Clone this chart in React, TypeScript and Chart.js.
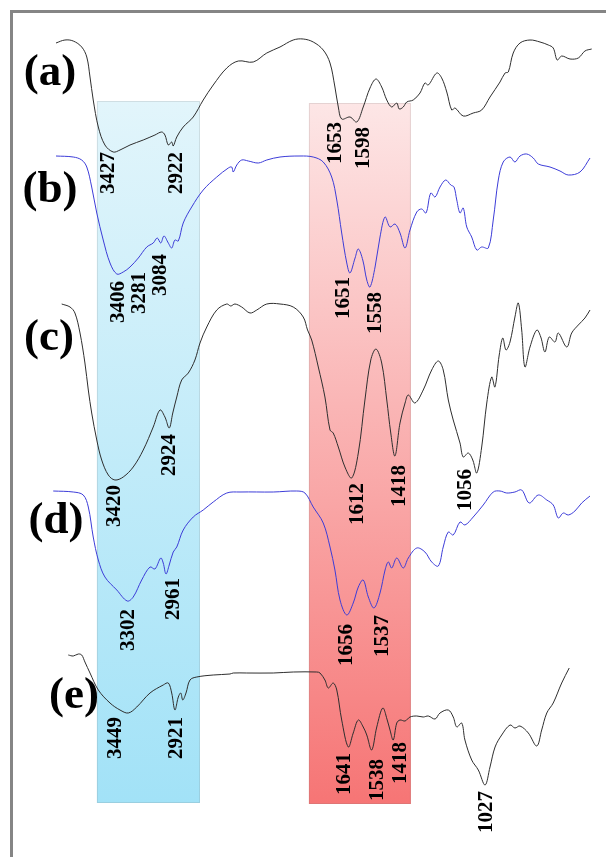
import React, { useEffect, useRef } from "react";
import { Chart, registerables } from "chart.js";

Chart.register(...registerables);

// Wavenumber (cm-1) and offset transmittance (a.u.) for each spectrum
const WN_A = [3786, 3728, 3674, 3619, 3586, 3565, 3544, 3511, 3468, 3414, 3370, 3305, 3219, 3143, 3099, 3078, 3056, 3034, 3024, 3001, 2959, 2894, 2829, 2764, 2676, 2601, 2504, 2416, 2330, 2244, 2179, 2114, 2049, 2005, 1973, 1951, 1929, 1875, 1831, 1789, 1745, 1706, 1669, 1636, 1604, 1571, 1555, 1529, 1506, 1464, 1420, 1388, 1366, 1311, 1279, 1246, 1214, 1192, 1139, 1074, 1019, 965, 900, 867, 846, 814, 770, 705, 640, 586, 554, 528, 499, 445, 391, 348, 304];
const T_A = [81.4, 81.7, 81.6, 81.0, 80.0, 78.0, 75.7, 73.0, 71.2, 70.5, 70.7, 71.2, 71.7, 72.2, 72.5, 72.2, 71.2, 71.5, 71.1, 72.0, 73.0, 74.0, 75.7, 77.2, 78.9, 79.6, 79.5, 80.4, 81.0, 81.7, 81.8, 81.5, 80.7, 79.4, 77.0, 75.0, 73.8, 74.0, 73.5, 75.0, 76.9, 77.8, 77.0, 75.7, 75.0, 75.4, 74.8, 75.0, 75.5, 75.7, 76.4, 77.4, 77.2, 78.4, 77.9, 76.5, 74.7, 74.9, 74.1, 74.4, 74.7, 76.0, 77.5, 78.4, 78.5, 80.4, 81.4, 81.7, 81.5, 81.2, 80.9, 79.7, 80.1, 79.8, 79.9, 80.6, 80.8];

const WN_B = [3786, 3674, 3619, 3586, 3554, 3521, 3479, 3435, 3391, 3349, 3305, 3251, 3196, 3154, 3128, 3105, 3084, 3056, 3034, 3013, 2991, 2959, 2904, 2829, 2741, 2666, 2644, 2634, 2611, 2579, 2536, 2471, 2416, 2330, 2200, 2114, 2049, 1994, 1961, 1929, 1896, 1875, 1842, 1821, 1792, 1766, 1745, 1712, 1680, 1647, 1615, 1582, 1550, 1517, 1485, 1441, 1409, 1381, 1350, 1322, 1290, 1253, 1220, 1199, 1181, 1160, 1139, 1116, 1084, 1051, 1019, 976, 944, 911, 879, 835, 803, 770, 726, 684, 651, 575, 510, 456, 380, 315];
const T_B = [70.1, 70.0, 69.7, 69.0, 67.0, 64.4, 61.7, 59.4, 58.3, 58.5, 59.0, 59.9, 61.0, 61.4, 61.9, 61.4, 62.1, 61.4, 60.9, 61.7, 61.6, 63.4, 65.0, 66.7, 68.0, 68.9, 69.0, 68.5, 69.2, 69.7, 69.6, 69.4, 69.7, 70.0, 70.1, 70.0, 69.5, 68.0, 65.7, 62.4, 59.4, 58.4, 59.9, 60.8, 59.7, 57.7, 57.0, 59.0, 62.0, 64.0, 63.0, 63.3, 62.4, 60.9, 62.7, 64.5, 64.8, 64.4, 66.4, 66.0, 67.0, 67.7, 67.2, 67.0, 65.7, 64.4, 64.9, 63.0, 62.0, 60.7, 61.0, 60.9, 63.7, 67.7, 69.5, 70.0, 69.5, 70.1, 70.3, 69.9, 69.3, 69.0, 68.6, 68.2, 68.5, 69.9];

const WN_C = [3749, 3695, 3663, 3630, 3598, 3576, 3554, 3521, 3489, 3446, 3403, 3349, 3284, 3219, 3154, 3110, 3078, 3050, 3027, 3001, 2969, 2926, 2883, 2850, 2806, 2741, 2676, 2650, 2623, 2579, 2525, 2481, 2416, 2330, 2244, 2179, 2151, 2124, 2081, 2038, 2005, 1984, 1951, 1908, 1864, 1821, 1778, 1740, 1706, 1669, 1636, 1610, 1583, 1550, 1517, 1496, 1453, 1399, 1344, 1301, 1269, 1236, 1204, 1160, 1139, 1106, 1077, 1051, 1019, 986, 954, 933, 905, 882, 861, 835, 803, 781, 759, 738, 705, 661, 635, 608, 580, 543, 521, 466, 434, 391, 348, 315];
const T_C = [55.3, 55.0, 54.4, 52.4, 49.4, 46.7, 44.4, 41.7, 39.7, 38.2, 37.7, 38.0, 39.0, 40.7, 43.0, 44.7, 44.0, 42.9, 44.4, 46.0, 47.7, 48.4, 49.7, 51.4, 53.0, 54.7, 55.3, 55.1, 55.3, 55.0, 54.4, 54.7, 55.3, 55.3, 55.0, 54.0, 52.7, 51.7, 49.0, 46.0, 42.7, 42.4, 41.0, 39.0, 37.9, 40.4, 45.7, 49.7, 50.8, 49.4, 45.7, 42.4, 40.1, 43.4, 45.4, 46.2, 45.4, 46.7, 48.7, 49.6, 48.7, 45.7, 43.7, 41.4, 40.0, 40.4, 39.7, 38.4, 41.0, 45.4, 48.0, 47.0, 50.2, 51.9, 50.7, 51.5, 54.0, 55.4, 52.7, 49.0, 51.0, 52.7, 52.0, 50.5, 52.0, 51.5, 52.4, 51.0, 52.4, 53.2, 53.9, 54.7];

const WN_D = [3804, 3674, 3609, 3576, 3544, 3511, 3468, 3391, 3323, 3284, 3229, 3175, 3143, 3105, 3089, 3071, 3050, 3024, 3001, 2959, 2894, 2829, 2764, 2676, 2590, 2374, 2221, 2168, 2114, 2049, 2005, 1973, 1940, 1896, 1854, 1821, 1789, 1756, 1719, 1680, 1647, 1626, 1604, 1571, 1529, 1496, 1441, 1388, 1344, 1301, 1269, 1236, 1204, 1160, 1128, 1074, 1009, 944, 900, 856, 803, 759, 710, 651, 596, 554, 521, 489, 456, 413, 369, 315];
const T_D = [36.6, 36.5, 36.2, 35.0, 32.0, 29.7, 28.0, 26.7, 25.6, 26.0, 27.7, 29.0, 28.8, 29.9, 29.4, 28.3, 29.2, 30.5, 31.0, 32.7, 34.0, 34.7, 35.5, 36.4, 36.5, 36.5, 36.6, 36.4, 35.0, 33.4, 31.0, 28.7, 25.7, 24.2, 25.4, 27.0, 27.7, 26.0, 24.9, 26.4, 28.7, 29.5, 28.9, 29.9, 28.9, 29.9, 30.9, 30.5, 29.5, 29.1, 31.0, 32.5, 32.2, 33.5, 33.2, 34.0, 35.2, 36.5, 36.6, 36.4, 36.5, 36.7, 35.4, 36.2, 35.7, 35.2, 33.9, 34.4, 34.2, 34.6, 35.4, 36.1];

const WN_E = [3706, 3674, 3641, 3619, 3598, 3565, 3511, 3435, 3370, 3316, 3261, 3175, 3089, 3056, 3034, 3013, 2991, 2975, 2962, 2941, 2915, 2871, 2764, 2655, 2634, 2546, 2374, 2244, 2091, 2070, 2038, 2016, 1984, 1961, 1929, 1886, 1854, 1821, 1789, 1766, 1734, 1701, 1662, 1633, 1615, 1594, 1571, 1550, 1517, 1485, 1441, 1399, 1366, 1322, 1290, 1236, 1204, 1181, 1149, 1128, 1084, 1041, 997, 965, 932, 889, 835, 803, 770, 716, 661, 629, 596, 554, 499, 450];
const T_E = [20.2, 20.1, 20.3, 20.2, 19.5, 18.4, 16.7, 15.4, 14.7, 14.4, 15.0, 16.4, 17.2, 17.4, 16.4, 14.7, 16.0, 16.4, 15.7, 16.4, 17.7, 18.0, 18.2, 18.3, 18.4, 18.4, 18.4, 18.5, 18.5, 18.4, 17.7, 16.9, 17.4, 16.7, 13.7, 11.0, 12.4, 13.7, 13.0, 12.2, 10.7, 13.0, 14.9, 13.7, 12.7, 11.7, 13.4, 13.7, 13.6, 14.0, 14.1, 14.0, 14.1, 13.8, 14.4, 14.7, 14.0, 13.0, 13.4, 11.7, 9.7, 8.7, 7.2, 9.0, 11.0, 12.2, 13.2, 12.9, 13.1, 12.4, 11.1, 12.7, 14.4, 15.4, 17.4, 18.9];

const SERIES_COLORS = ["#2e2e2e", "#3c3cd8", "#2e2e2e", "#3c3cd8", "#2e2e2e"];

// Highlight regions: [high wavenumber, low wavenumber, top, bottom]
const BLUE_BAND = [3520, 2850, 75.6, 5.4];
const RED_BAND = [2142, 1479, 75.4, 5.3];

// Peak labels: text, wavenumber, value
const PEAK_TEXT = ["3427", "2922", "1653", "1598", "3406", "3281", "3084", "1651", "1558", "3420", "2924", "1612", "1418", "1056", "3302", "2961", "1656", "1537", "3449", "2921", "1641", "1538", "1418", "1027"];
const PEAK_WN = [3442, 3001, 1966, 1784, 3377, 3240, 3104, 1914, 1706, 3403, 3048, 1826, 1550, 1121, 3312, 3019, 1895, 1661, 3396, 3000, 1908, 1693, 1544, 985];
const PEAK_T = [68.4, 68.4, 71.4, 70.9, 55.5, 56.4, 58.2, 55.9, 54.4, 35.1, 40.2, 35.3, 37.1, 36.7, 22.7, 25.8, 21.2, 22.1, 11.9, 11.9, 8.3, 7.7, 9.4, 4.5];

// Panel labels
const PANEL_TEXT = ["(a)", "(b)", "(c)", "(d)", "(e)"];
const PANEL_WN = [3825, 3825, 3832, 3786, 3669];
const PANEL_T = [78.4, 66.7, 51.9, 33.6, 16.1];

const X_MIN = 211;
const X_MAX = 4150;
const Y_MIN = 0;
const Y_MAX = 85.7;

const zip = (xs: number[], ys: number[]) => xs.map((x, i) => ({ x, y: ys[i] }));

const bandsPlugin = {
  id: "bands",
  beforeDatasetsDraw(chart: any) {
    const { ctx, scales } = chart;
    const xs = scales.x;
    const ys = scales.y;
    const draw = (band: number[], top: string, bottom: string) => {
      const x1 = xs.getPixelForValue(band[0]);
      const x2 = xs.getPixelForValue(band[1]);
      const y1 = ys.getPixelForValue(band[2]);
      const y2 = ys.getPixelForValue(band[3]);
      const g = ctx.createLinearGradient(0, y1, 0, y2);
      g.addColorStop(0, top);
      g.addColorStop(1, bottom);
      ctx.save();
      ctx.fillStyle = g;
      ctx.fillRect(x1, y1, x2 - x1, y2 - y1);
      ctx.strokeStyle = "rgba(120,120,120,0.18)";
      ctx.lineWidth = 1;
      ctx.strokeRect(x1 + 0.5, y1 + 0.5, x2 - x1 - 1, y2 - y1 - 1);
      ctx.restore();
    };
    draw(BLUE_BAND, "#e2f5fb", "#a2e2f7");
    draw(RED_BAND, "#fde6e6", "#f67575");
  },
};

const labelsPlugin = {
  id: "peakLabels",
  afterDatasetsDraw(chart: any) {
    const { ctx, scales } = chart;
    const xs = scales.x;
    const ys = scales.y;
    ctx.save();
    ctx.fillStyle = "#000";
    ctx.textAlign = "center";
    ctx.textBaseline = "middle";
    ctx.font = "bold 21px 'Liberation Serif', 'Times New Roman', serif";
    PEAK_TEXT.forEach((t, i) => {
      const x = xs.getPixelForValue(PEAK_WN[i]);
      const y = ys.getPixelForValue(PEAK_T[i]);
      ctx.save();
      ctx.translate(x, y);
      ctx.rotate(-Math.PI / 2);
      ctx.fillText(t, 0, 0);
      ctx.restore();
    });
    ctx.font = "bold 45px 'Liberation Serif', 'Times New Roman', serif";
    PANEL_TEXT.forEach((t, i) => {
      const x = xs.getPixelForValue(PANEL_WN[i]);
      const y = ys.getPixelForValue(PANEL_T[i]);
      ctx.fillText(t, x, y);
    });
    ctx.restore();
  },
};

export default function App() {
  const ref = useRef<HTMLCanvasElement | null>(null);

  useEffect(() => {
    if (!ref.current) return;
    const series = [
      zip(WN_A, T_A),
      zip(WN_B, T_B),
      zip(WN_C, T_C),
      zip(WN_D, T_D),
      zip(WN_E, T_E),
    ];
    const chart = new Chart(ref.current, {
      type: "line",
      data: {
        datasets: series.map((d, i) => ({
          label: PANEL_TEXT[i],
          data: d,
          borderColor: SERIES_COLORS[i],
          borderWidth: 1,
          pointRadius: 0,
          tension: 0.35,
          fill: false,
        })),
      },
      options: {
        animation: false,
        responsive: false,
        devicePixelRatio: 1,
        layout: { padding: 0 },
        plugins: { legend: { display: false }, tooltip: { enabled: false } },
        scales: {
          x: { type: "linear", reverse: true, min: X_MIN, max: X_MAX, display: false },
          y: { type: "linear", min: Y_MIN, max: Y_MAX, display: false },
        },
      },
      plugins: [bandsPlugin, labelsPlugin],
    });
    return () => chart.destroy();
  }, []);

  return (
    <div
      style={{
        position: "fixed",
        left: 0,
        top: 0,
        width: 606,
        height: 857,
        background: "#ffffff",
        overflow: "hidden",
      }}
    >
      <div
        style={{
          position: "absolute",
          left: 10,
          top: 10,
          width: 700,
          height: 900,
          borderTop: "3px solid #858585",
          borderLeft: "3px solid #858585",
        }}
      />
      <canvas
        ref={ref}
        width={606}
        height={857}
        style={{ position: "absolute", left: 0, top: 0, display: "block" }}
      />
    </div>
  );
}
